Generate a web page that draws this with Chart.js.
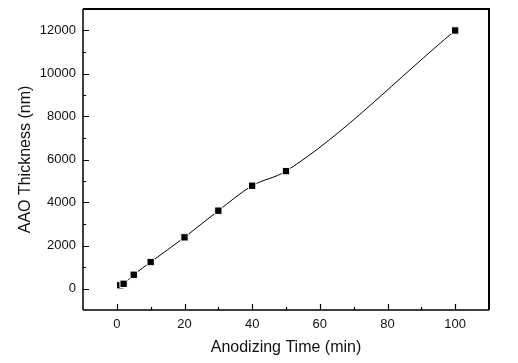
<!DOCTYPE html>
<html>
<head>
<meta charset="utf-8">
<script src="https://cdn.jsdelivr.net/npm/chart.js@4/dist/chart.umd.min.js"></script>
<style>
  html, body { margin: 0; padding: 0; background: #fff; }
  #wrap { width: 518px; height: 363px; }
</style>
</head>
<body>
<div id="wrap"><canvas id="aao"></canvas></div>
<script>
// anodizing time (min) vs AAO thickness (nm)
const times = [1, 2, 5, 10, 20, 30, 40, 50, 100];
const thickness = [150, 220, 640, 1230, 2380, 3620, 4780, 5460, 12000];
const xTicks = [0, 20, 40, 60, 80, 100];
const yTicks = [0, 2000, 4000, 6000, 8000, 10000, 12000];
const xMinor = [10, 30, 50, 70, 90];
const yMinor = [1000, 3000, 5000, 7000, 9000, 11000];

const font = "'Liberation Sans', Arial, Helvetica, sans-serif";

// inward ticks + box frame, drawn through the scales
const frame = {
  id: 'frame',
  afterDraw(chart) {
    const { ctx, chartArea: a, scales: { x, y } } = chart;
    ctx.save();
    ctx.strokeStyle = '#000';
    ctx.lineWidth = 1.2;
    ctx.beginPath();
    xTicks.forEach(v => { const px = Math.round(x.getPixelForValue(v)) + 0.5; ctx.moveTo(px, a.bottom); ctx.lineTo(px, a.bottom - 6); });
    xMinor.forEach(v => { const px = Math.round(x.getPixelForValue(v)) + 0.5; ctx.moveTo(px, a.bottom); ctx.lineTo(px, a.bottom - 3); });
    yTicks.forEach(v => { const py = Math.round(y.getPixelForValue(v)) + 0.5; ctx.moveTo(a.left, py); ctx.lineTo(a.left + 6, py); });
    yMinor.forEach(v => { const py = Math.round(y.getPixelForValue(v)) + 0.5; ctx.moveTo(a.left, py); ctx.lineTo(a.left + 3, py); });
    ctx.stroke();
    ctx.lineWidth = 1.5;
    ctx.strokeRect(a.left, a.bottom, a.right - a.left, 0);
    ctx.strokeRect(a.left, a.top, 0, a.bottom - a.top);
    ctx.lineWidth = 2;
    ctx.beginPath();
    ctx.moveTo(a.left, a.top);
    ctx.lineTo(a.right, a.top);
    ctx.lineTo(a.right, a.bottom);
    ctx.stroke();
    ctx.restore();
  }
};

new Chart(document.getElementById('aao'), {
  type: 'scatter',
  data: {
    datasets: [{
      data: times.map((t, i) => ({ x: t, y: thickness[i] })),
      showLine: true,
      cubicInterpolationMode: 'monotone',
      borderColor: '#000',
      borderWidth: 1,
      pointStyle: 'rect',
      pointRadius: 5.2,
      pointBackgroundColor: '#000',
      pointBorderColor: '#fff',
      pointBorderWidth: 1
    }]
  },
  options: {
    responsive: true,
    maintainAspectRatio: false,
    animation: false,
    layout: { padding: { top: 9, right: 29, left: 16, bottom: 0 } },
    plugins: { legend: { display: false }, tooltip: { enabled: false } },
    scales: {
      x: {
        type: 'linear', min: -10, max: 110,
        afterBuildTicks: s => { s.ticks = xTicks.map(v => ({ value: v })); },
        afterFit: s => { s.height = 53; s.paddingLeft = 0; s.paddingRight = 0; },
        grid: { display: false, drawTicks: false },
        border: { display: false },
        ticks: { color: '#111', padding: 7, font: { family: font, size: 13 }, callback: v => String(v) },
        title: { display: true, text: 'Anodizing Time (min)', color: '#111', padding: { top: 4, bottom: 6 }, font: { family: font, size: 16 } }
      },
      y: {
        type: 'linear', min: -1000, max: 13000,
        afterBuildTicks: s => { s.ticks = yTicks.map(v => ({ value: v })); },
        afterFit: s => { s.width = 67; s.paddingTop = 0; s.paddingBottom = 0; },
        grid: { display: false, drawTicks: false },
        border: { display: false },
        ticks: { color: '#111', padding: 7, font: { family: font, size: 13 }, callback: v => String(v) },
        title: { display: true, text: 'AAO Thickness (nm)', color: '#111', padding: { top: 0, bottom: 4 }, font: { family: font, size: 16 } }
      }
    }
  },
  plugins: [frame]
});
</script>
</body>
</html>
